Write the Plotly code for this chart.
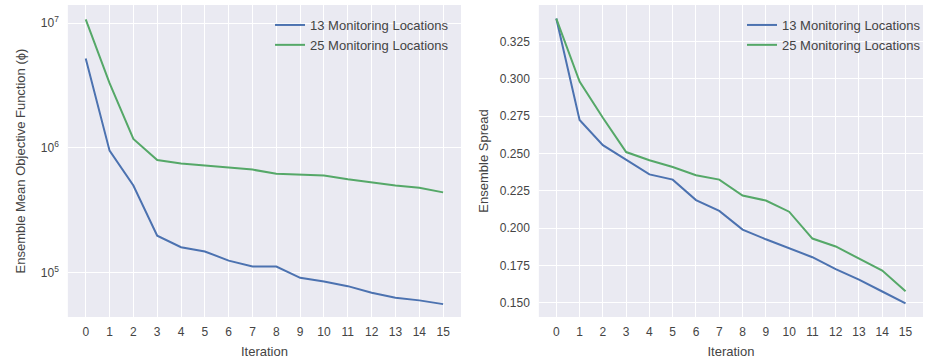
import plotly.graph_objects as go

iterations = list(range(16))
obj_13 = [5.2e6, 9.5e5, 5.0e5, 1.98e5, 1.6e5, 1.48e5, 1.25e5, 1.12e5, 1.12e5,
          9.1e4, 8.5e4, 7.8e4, 6.9e4, 6.3e4, 6.0e4, 5.6e4]
obj_25 = [1.07e7, 3.3e6, 1.18e6, 8.0e5, 7.5e5, 7.2e5, 6.9e5, 6.7e5, 6.2e5,
          6.1e5, 6.0e5, 5.6e5, 5.3e5, 5.0e5, 4.8e5, 4.4e5]
spread_13 = [0.3405, 0.2725, 0.2556, 0.2455, 0.236, 0.2325, 0.2188, 0.2115, 0.199,
             0.1925, 0.1866, 0.1805, 0.1725, 0.1655, 0.1575, 0.1496]
spread_25 = [0.3405, 0.2982, 0.274, 0.251, 0.2455, 0.241, 0.2355, 0.2325, 0.2218,
             0.2185, 0.211, 0.193, 0.1877, 0.1795, 0.1715, 0.1577]
series_names = ["13 Monitoring Locations", "25 Monitoring Locations"]
log_tickvals = [1e5, 1e6, 1e7]
log_ticktext = ["10<sup>5</sup>", "10<sup>6</sup>", "10<sup>7</sup>"]
spread_ticks = [0.150, 0.175, 0.200, 0.225, 0.250, 0.275, 0.300, 0.325]

BLUE = "#4C72B0"
GREEN = "#55A868"
BG = "#EAEAF2"
FONT = "Liberation Sans, Arial, sans-serif"
TXT = "#444444"

fig = go.Figure()
fig.add_trace(go.Scatter(x=iterations, y=obj_13, mode="lines", name=series_names[0],
                         line=dict(color=BLUE, width=2), xaxis="x", yaxis="y", legend="legend"))
fig.add_trace(go.Scatter(x=iterations, y=obj_25, mode="lines", name=series_names[1],
                         line=dict(color=GREEN, width=2), xaxis="x", yaxis="y", legend="legend"))
fig.add_trace(go.Scatter(x=iterations, y=spread_13, mode="lines", name=series_names[0],
                         line=dict(color=BLUE, width=2), xaxis="x2", yaxis="y2", legend="legend2"))
fig.add_trace(go.Scatter(x=iterations, y=spread_25, mode="lines", name=series_names[1],
                         line=dict(color=GREEN, width=2), xaxis="x2", yaxis="y2", legend="legend2"))

W, H = 926, 362
axis_common = dict(showgrid=True, gridcolor="white", gridwidth=1, zeroline=False,
                   showline=False, ticks="", tickfont=dict(size=12, color=TXT, family=FONT))

xcommon = dict(axis_common, tickmode="array", tickvals=iterations,
               ticktext=[str(i) for i in iterations], range=[-0.75, 15.75],
               ticklabelstandoff=6,
               title=dict(text="Iteration", font=dict(size=13, color=TXT, family=FONT), standoff=8))

fig.update_layout(
    width=W, height=H,
    margin=dict(l=0, r=0, t=0, b=0),
    paper_bgcolor="white", plot_bgcolor=BG,
    font=dict(family=FONT, color=TXT),
    xaxis=dict(xcommon, domain=[68 / W, 462 / W], anchor="y"),
    xaxis2=dict(xcommon, domain=[540 / W, 925 / W], anchor="y2"),
    yaxis=dict(axis_common, type="log", domain=[1 - 317 / H, 1 - 5 / H], anchor="x",
               range=[4.645, 7.145], tickmode="array", tickvals=log_tickvals, ticktext=log_ticktext,
               ticklabelstandoff=8,
               title=dict(text="Ensemble Mean Objective Function (ϕ)",
                          font=dict(size=13, color=TXT, family=FONT), standoff=12)),
    yaxis2=dict(axis_common, domain=[1 - 317 / H, 1 - 5 / H], anchor="x2",
                range=[0.1404, 0.3496], tickmode="array", tickvals=spread_ticks,
                ticktext=[f"{v:.3f}" for v in spread_ticks], ticklabelstandoff=8,
                title=dict(text="Ensemble Spread", font=dict(size=13, color=TXT, family=FONT), standoff=8)),
    legend=dict(x=455 / W, y=1 - 10 / H, xanchor="right", yanchor="top", bgcolor="rgba(0,0,0,0)",
                font=dict(size=13, color=TXT, family=FONT), tracegroupgap=0, itemwidth=30),
    legend2=dict(x=928 / W, y=1 - 10 / H, xanchor="right", yanchor="top", bgcolor="rgba(0,0,0,0)",
                 font=dict(size=13, color=TXT, family=FONT), tracegroupgap=0, itemwidth=30),
)

fig.write_html("out.html")
